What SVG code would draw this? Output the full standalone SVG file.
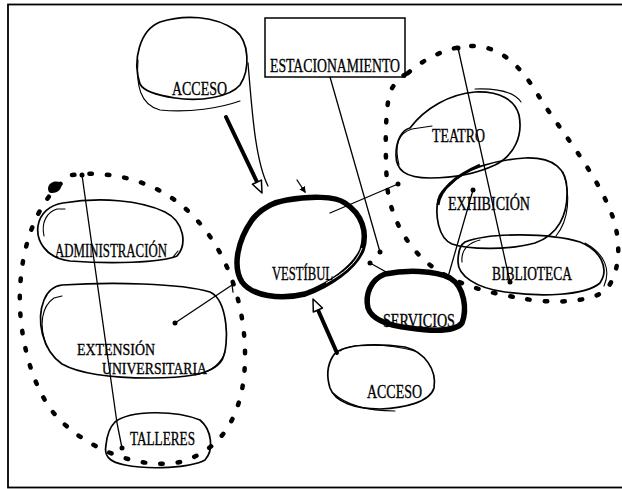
<svg xmlns="http://www.w3.org/2000/svg" width="622" height="489" viewBox="0 0 622 489">
  <style>
    .frame { fill: none; stroke: #000; stroke-width: 1.8; }
    .blob { fill: none; stroke: #000; stroke-width: 1.7; stroke-linejoin: round; stroke-linecap: round; }
    .blob2 { fill: none; stroke: #000; stroke-width: 1.1; stroke-linecap: round; }
    .heavy { fill: none; stroke: #000; stroke-width: 5.5; stroke-linejoin: round; }
    .zone { fill: none; stroke: #000; stroke-width: 4.5; stroke-linecap: round; stroke-dasharray: 2.5 15; }
    .link { fill: none; stroke: #000; stroke-width: 1.3; stroke-linecap: round; }
    .flow { fill: none; stroke: #000; stroke-width: 4; stroke-linecap: round; }
    .head { fill: #fff; stroke: #000; stroke-width: 1.5; stroke-linejoin: round; }
    .lbl { font-family: "Liberation Serif", "Times New Roman", serif; font-size: 19px; fill: #000; stroke: #000; stroke-width: 0.35; }
    .sm { font-size: 17px; }
  </style>
  <defs>
    <marker id="tip" viewBox="0 0 10 10" refX="8" refY="5" markerWidth="5" markerHeight="5" orient="auto">
      <path d="M0,0 L10,5 L0,10 Z" fill="#000"/>
    </marker>
  </defs>

  <rect class="frame" x="8" y="4.5" width="620" height="483"/>

  <!-- zone outlines (dotted) -->
  <g id="zones">
    <path class="zone" d="M 72,175 C 110,170 160,180 195,218 C 230,255 246,310 245,360 C 244,410 225,450 180,462 C 140,470 90,450 60,420 C 30,390 18,330 20,290 C 22,240 40,195 72,175 Z"/>
    <path d="M 48,188 C 49,182 56,180 61,183 C 63,188 58,193 52,193 C 49,193 48,191 48,188 Z" fill="#000"/>
    <path class="zone" d="M 408,73 C 425,58 450,46 472,46 C 500,46 520,65 538,95 C 560,130 590,165 608,205 C 622,235 622,270 606,290 C 590,303 550,304 520,298 C 490,293 455,285 430,265 C 405,245 390,215 387,185 C 385,150 385,110 390,92 C 395,82 400,77 408,73 Z"/>
  </g>

  <!-- connectors -->
  <g id="connectors">
    <path class="link" d="M 248,63 C 252,110 255,160 268,186"/>
    <line class="flow" x1="226" y1="117" x2="257" y2="182"/>
    <polygon class="head" points="262,193 252.4,184.3 261.4,180.1"/>
    <line class="flow" x1="337" y1="353" x2="318" y2="310"/>
    <polygon class="head" points="313,299 313.3,312 322.5,308"/>
    <line class="link" x1="297" y1="180" x2="305" y2="192" marker-end="url(#tip)"/>
    <line class="link" x1="330" y1="77" x2="380" y2="252"/>
    <circle cx="380" cy="252" r="2.5"/>
    <line class="link" x1="330" y1="213" x2="398" y2="184"/>
    <circle cx="398" cy="184" r="2.5"/>
    <line class="link" x1="370" y1="263" x2="388" y2="273"/>
    <circle cx="370" cy="263" r="2.5"/>
    <line class="link" x1="175" y1="323" x2="232" y2="285"/>
    <line class="link" x1="232" y1="285" x2="233" y2="292"/>
    <circle cx="175" cy="323" r="2.5"/>
    <polyline class="link" points="82,175 117,423 122,448"/>
    <circle cx="82" cy="175" r="2.5"/>
    <circle cx="122" cy="448" r="2.5"/>
    <line class="link" x1="458" y1="48" x2="510" y2="282"/>
    <circle cx="458" cy="48" r="2.5"/>
    <circle cx="510" cy="282" r="2.5"/>
    <line class="link" x1="448" y1="277" x2="473" y2="190"/>
    <circle cx="473" cy="190" r="2.5"/>
  </g>

  <g id="acceso-norte">
    <path class="blob" d="M 140,84 C 132,60 140,30 160,22 C 185,14 215,16 235,30 C 250,42 250,70 240,85 C 230,97 200,102 175,98 C 155,95 143,90 140,84 Z"/>
    <path class="blob2" d="M 138,60 C 136,85 140,105 160,110 C 190,113 220,108 240,101"/>
    <text class="lbl" x="172" y="95" textLength="55" lengthAdjust="spacingAndGlyphs">ACCESO</text>
  </g>

  <g id="estacionamiento">
    <rect x="265" y="18" width="140" height="59" fill="none" stroke="#000" stroke-width="1.5"/>
    <text class="lbl" x="270" y="72" textLength="130" lengthAdjust="spacingAndGlyphs">ESTACIONAMIENTO</text>
  </g>

  <g id="teatro">
    <path class="blob" d="M 410,128 C 425,108 450,94 475,92 C 500,91 515,100 519,115 C 523,135 515,155 495,165 C 480,172 460,178 430,178 C 405,178 396,170 396,155 C 396,140 402,130 410,128 Z"/>
    <path class="blob2" d="M 399,165 C 394,145 398,133 412,129 L 432,126"/>
    <path class="blob2" d="M 475,89 C 500,88 514,92 521,102"/>
    <text class="lbl" x="432" y="142" textLength="53" lengthAdjust="spacingAndGlyphs">TEATRO</text>
  </g>

  <g id="exhibicion">
    <path class="blob" d="M 450,185 C 465,168 495,160 525,158 C 555,157 567,170 567,190 C 568,215 558,235 535,243 C 510,250 470,250 452,244 C 438,238 435,215 438,200 C 440,192 444,189 450,185 Z"/>
    <path d="M 438,205 C 440,190 455,176 480,165" fill="none" stroke="#000" stroke-width="3"/>
    <path class="blob2" d="M 563,172 C 571,195 569,220 556,236"/>
    <text class="lbl" x="448" y="210" textLength="82" lengthAdjust="spacingAndGlyphs">EXHIBICIÓN</text>
  </g>

  <g id="biblioteca">
    <path class="blob" d="M 465,242 C 490,232 550,233 580,242 C 600,250 610,268 600,283 C 585,296 540,297 505,292 C 475,288 458,275 458,262 C 458,252 460,245 465,242 Z"/>
    <path class="blob2" d="M 585,243 C 605,254 611,270 604,286"/>
    <path class="blob2" d="M 462,262 C 461,250 468,243 480,240"/>
    <text class="lbl" x="492" y="280" textLength="80" lengthAdjust="spacingAndGlyphs">BIBLIOTECA</text>
  </g>

  <g id="administracion">
    <path class="blob" d="M 63,203 C 100,197 140,200 165,212 C 185,222 187,245 177,256 C 160,263 110,264 70,261 C 45,258 36,240 38,226 C 40,213 50,205 63,203 Z"/>
    <path class="blob2" d="M 44,236 C 41,222 47,212 57,209 L 65,209"/>
    <path class="blob2" d="M 173,257 L 178,251"/>
    <text class="lbl" x="55" y="257" textLength="112" lengthAdjust="spacingAndGlyphs">ADMINISTRACIÓN</text>
  </g>

  <g id="extension">
    <path class="blob" d="M 62,285 C 110,282 180,283 210,292 C 228,300 230,345 222,360 C 212,376 180,378 150,378 C 110,378 80,374 62,364 C 42,350 36,320 44,300 C 48,290 54,286 62,285 Z"/>
    <path class="blob2" d="M 47,347 C 38,325 42,306 54,298 L 62,296"/>
    <path class="blob2" d="M 195,375 C 212,372 222,362 225,352"/>
    <text class="lbl sm" x="77" y="355" textLength="78" lengthAdjust="spacingAndGlyphs">EXTENSIÓN</text>
    <text class="lbl sm" x="102" y="374" textLength="105" lengthAdjust="spacingAndGlyphs">UNIVERSITARIA</text>
  </g>

  <g id="talleres">
    <path class="blob" d="M 115,422 C 130,410 175,410 200,420 C 212,430 214,450 205,460 C 190,468 150,470 125,465 C 108,462 104,455 106,445 C 107,435 110,427 115,422 Z"/>
    <text class="lbl" x="130" y="445" textLength="65" lengthAdjust="spacingAndGlyphs">TALLERES</text>
  </g>

  <g id="vestibulo">
    <path class="heavy" d="M 287,200 C 310,196 335,196 345,203 C 362,214 368,232 362,250 C 354,268 330,285 305,294 C 280,300 252,296 242,282 C 232,266 238,240 252,220 C 262,207 275,202 287,200 Z"/>
    <path d="M 362,248 C 356,264 344,273 326,283" fill="none" stroke="#fff" stroke-width="1"/>
    <text class="lbl" x="272" y="280" textLength="61" lengthAdjust="spacingAndGlyphs">VESTÍBUL</text>
  </g>

  <g id="servicios">
    <path class="heavy" d="M 385,274 C 405,270 435,270 450,278 C 465,287 467,310 462,323 C 455,332 430,331 410,328 C 390,326 372,320 368,308 C 365,295 370,280 385,274 Z" stroke-width="5"/>
    <path d="M 374,305 C 371,293 374,284 381,280" fill="none" stroke="#fff" stroke-width="1"/>
    <text class="lbl" x="383" y="327" textLength="72" lengthAdjust="spacingAndGlyphs">SERVICIOS</text>
  </g>

  <g id="acceso-sur">
    <path class="blob" d="M 333,356 C 340,344 375,343 405,347 C 425,352 437,370 434,388 C 430,402 405,408 380,409 C 355,409 335,402 330,388 C 326,375 328,364 333,356 Z"/>
    <path class="blob2" d="M 340,351 C 352,342 390,344 415,351"/>
    <path class="blob2" d="M 333,393 C 345,404 365,411 395,411"/>
    <text class="lbl" x="367" y="398" textLength="55" lengthAdjust="spacingAndGlyphs">ACCESO</text>
  </g>
</svg>
